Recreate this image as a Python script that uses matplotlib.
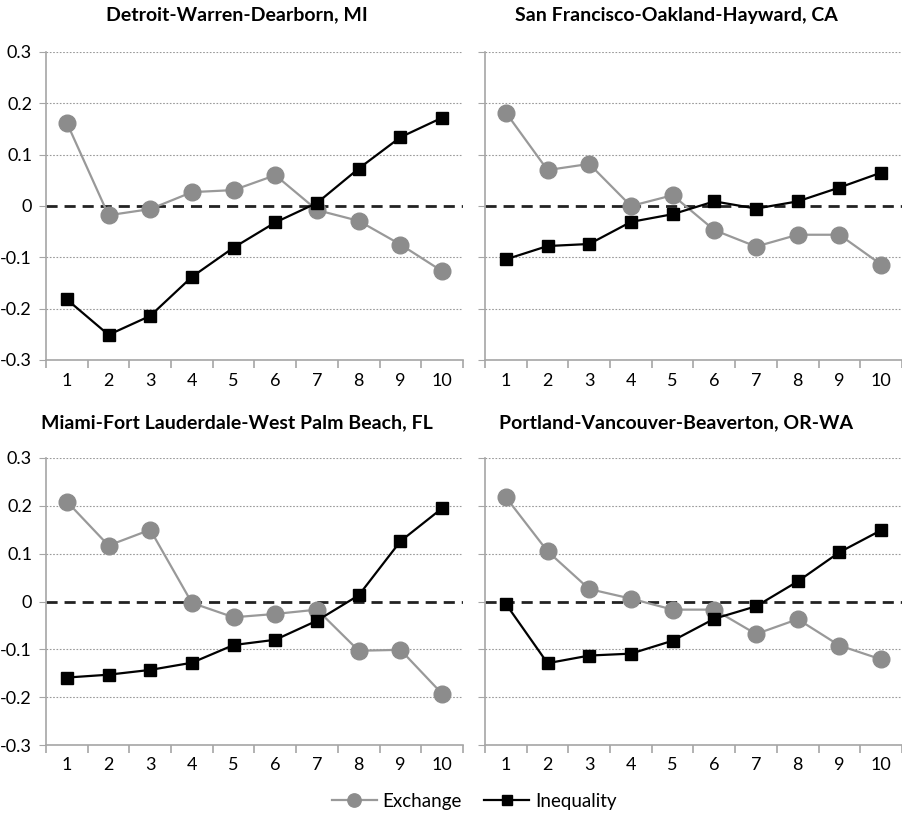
import matplotlib
matplotlib.use("Agg")
import matplotlib.pyplot as plt
import numpy as np

plt.rcParams['font.family'] = ['Lato', 'DejaVu Sans']

deciles = np.arange(1, 11)

titles = ["Detroit-Warren-Dearborn, MI",
          "San Francisco-Oakland-Hayward, CA",
          "Miami-Fort Lauderdale-West Palm Beach, FL",
          "Portland-Vancouver-Beaverton, OR-WA"]

detroit_exchange = [0.162, -0.018, -0.006, 0.027, 0.031, 0.060, -0.008, -0.029, -0.075, -0.127]
detroit_inequality = [-0.182, -0.251, -0.214, -0.138, -0.081, -0.032, 0.006, 0.073, 0.134, 0.172]

sf_exchange = [0.182, 0.070, 0.082, 0.0, 0.021, -0.047, -0.079, -0.056, -0.056, -0.114]
sf_inequality = [-0.104, -0.078, -0.074, -0.031, -0.016, 0.009, -0.005, 0.009, 0.036, 0.065]

miami_exchange = [0.209, 0.117, 0.150, -0.003, -0.033, -0.026, -0.017, -0.103, -0.101, -0.193]
miami_inequality = [-0.159, -0.153, -0.143, -0.128, -0.091, -0.080, -0.040, 0.013, 0.126, 0.195]

portland_exchange = [0.218, 0.105, 0.026, 0.006, -0.017, -0.017, -0.068, -0.037, -0.092, -0.121]
portland_inequality = [-0.005, -0.129, -0.113, -0.109, -0.082, -0.036, -0.010, 0.042, 0.103, 0.149]

exchange = [detroit_exchange, sf_exchange, miami_exchange, portland_exchange]
inequality = [detroit_inequality, sf_inequality, miami_inequality, portland_inequality]

yticks = [-0.3, -0.2, -0.1, 0, 0.1, 0.2, 0.3]
ytick_labels = ["-0.3", "-0.2", "-0.1", "0", "0.1", "0.2", "0.3"]

W, H = 903, 818
fig = plt.figure(figsize=(W / 100, H / 100), dpi=100)

# axes boxes in pixels: left, top, width, height
boxes = [(46, 52, 417, 308), (485, 52, 417, 308),
         (46, 458, 417, 287), (485, 458, 417, 287)]
# title centres (x, y) in pixels
title_pos = [(237, 15), (676, 15), (237, 423), (676, 423)]

grey = "#8c8c8c"
axis_col = "#a6a6a6"

for i, (l, t, w, h) in enumerate(boxes):
    ax = fig.add_axes([l / W, 1 - (t + h) / H, w / W, h / H])
    ax.set_xlim(0.5, 10.5)
    ax.set_ylim(-0.3, 0.3)

    for yv in yticks:
        if yv != 0:
            ax.axhline(yv, color="#9a9a9a", lw=0.8, ls=(0, (1.5, 1.5)), zorder=1)
    ax.axhline(0, color="#222222", lw=2, ls=(0, (4, 2.5)), zorder=2)

    l1, = ax.plot(deciles, exchange[i], color="#999999", lw=1.6, marker="o",
                  ms=12, mfc=grey, mec=grey, zorder=3, label="Exchange")
    l2, = ax.plot(deciles, inequality[i], color="black", lw=1.6, marker="s",
                  ms=8.5, mfc="black", mec="black", zorder=4, label="Inequality")

    for s in ["top", "right"]:
        ax.spines[s].set_visible(False)
    for s in ["left", "bottom"]:
        ax.spines[s].set_color(axis_col)
        ax.spines[s].set_linewidth(1.2)

    ax.set_yticks(yticks)
    if i % 2 == 0:
        ax.set_yticklabels(ytick_labels)
    else:
        ax.set_yticklabels([])
    ax.tick_params(axis="y", length=5, color=axis_col, labelsize=13, pad=5)

    # category ticks between decile positions, labels at the deciles
    ax.set_xticks(np.arange(0.5, 11, 1))
    ax.set_xticklabels([])
    ax.set_xticks(deciles, minor=True)
    ax.set_xticklabels([str(d) for d in deciles], minor=True)
    ax.tick_params(axis="x", which="major", length=6, color=axis_col, width=1.2)
    ax.tick_params(axis="x", which="minor", length=0, labelsize=13, pad=9)

    tx, ty = title_pos[i]
    fig.text(tx / W, 1 - ty / H, titles[i], fontsize=14, fontweight="bold",
             ha="center", va="center")

fig.legend([l1, l2], ["Exchange", "Inequality"], loc="center",
           bbox_to_anchor=(474 / W, 1 - 801 / H), ncol=2, frameon=False,
           fontsize=13.5, handlelength=2.4, columnspacing=1.2, handletextpad=0.3,
           markerscale=0.8)

fig.savefig("out.png", dpi=100)
